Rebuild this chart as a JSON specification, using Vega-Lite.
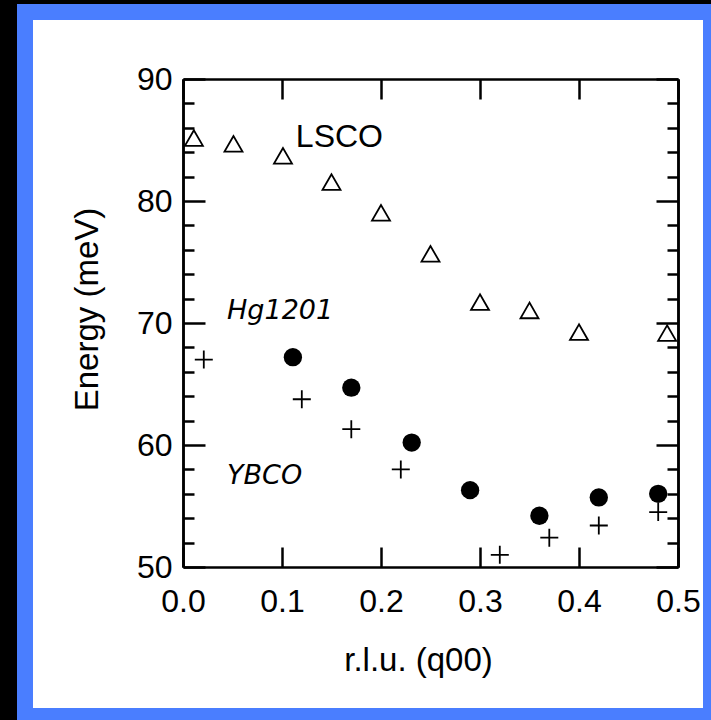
{
  "$schema": "https://vega.github.io/schema/vega-lite/v6.json",
  "background": "black",
  "autosize": {"type": "none"},
  "padding": {"left": 25, "top": 12, "right": 0, "bottom": 4},
  "width": 686,
  "height": 704,
  "config": {
    "view": {"stroke": "#4a7eff", "strokeWidth": 16, "fill": "white"},
    "axis": {
      "grid": false,
      "domainColor": "black",
      "domainWidth": 2.5,
      "tickColor": "black",
      "tickWidth": 2.5,
      "labelColor": "black",
      "labelFont": "Liberation Sans",
      "labelFontSize": 32,
      "titleColor": "black",
      "titleFont": "Liberation Sans",
      "titleFontSize": 33,
      "titleFontWeight": "normal"
    }
  },
  "datasets": {
    "lsco": [
      {"q": 0.011, "e": 85.16},
      {"q": 0.051, "e": 84.69},
      {"q": 0.101, "e": 83.7},
      {"q": 0.150, "e": 81.55},
      {"q": 0.200, "e": 79.03},
      {"q": 0.250, "e": 75.67},
      {"q": 0.300, "e": 71.71},
      {"q": 0.350, "e": 71.03},
      {"q": 0.400, "e": 69.25},
      {"q": 0.489, "e": 69.17}
    ],
    "hg1201": [
      {"q": 0.111, "e": 67.2},
      {"q": 0.170, "e": 64.7},
      {"q": 0.231, "e": 60.2},
      {"q": 0.290, "e": 56.3},
      {"q": 0.360, "e": 54.2},
      {"q": 0.420, "e": 55.7},
      {"q": 0.480, "e": 56.0}
    ],
    "ybco": [
      {"q": 0.021, "e": 67.0},
      {"q": 0.120, "e": 63.75},
      {"q": 0.170, "e": 61.3},
      {"q": 0.220, "e": 58.0},
      {"q": 0.320, "e": 51.0},
      {"q": 0.370, "e": 52.4},
      {"q": 0.420, "e": 53.4},
      {"q": 0.480, "e": 54.5}
    ],
    "labelA": [
      {"q": 0.114, "e": 84.43, "label": "LSCO"}
    ],
    "labelB": [
      {"q": 0.0445, "e": 70.33, "label": "Hg1201"},
      {"q": 0.0445, "e": 56.8, "label": "YBCO"}
    ]
  },
  "resolve": {"axis": {"x": "independent", "y": "independent"}},
  "layer": [
    {
      "data": {"name": "lsco"},
      "mark": {"type": "point", "shape": "triangle-up", "size": 324, "filled": false, "stroke": "black", "strokeWidth": 1.8, "opacity": 1},
      "encoding": {
        "x": {"field": "q", "type": "quantitative",
          "scale": {"domain": [0, 0.5], "range": [158, 653], "nice": false, "zero": false},
          "axis": {"orient": "bottom", "offset": -149, "values": [0, 0.1, 0.2, 0.3, 0.4, 0.5], "format": ".1f",
            "tickSize": -20, "labelPadding": 39, "labelFlush": false, "labelOverlap": false,
            "title": "r.l.u. (q00)", "titleX": 393, "titleY": 103, "titleBaseline": "alphabetic", "titleAnchor": null}},
        "y": {"field": "e", "type": "quantitative",
          "scale": {"domain": [50, 90], "range": [555, 67], "nice": false, "zero": false},
          "axis": {"orient": "left", "offset": -158, "values": [50, 60, 70, 80, 90],
            "tickSize": -22, "labelPadding": 33, "labelFlush": false, "labelOverlap": false,
            "title": "Energy (meV)", "titleX": -96, "titleY": 297, "titleBaseline": "middle", "titleAngle": -90}}
      }
    },
    {
      "data": {"name": "hg1201"},
      "mark": {"type": "point", "shape": "circle", "size": 336, "filled": true, "color": "black", "opacity": 1},
      "encoding": {
        "x": {"field": "q", "type": "quantitative",
          "scale": {"domain": [0, 0.5], "range": [158, 653], "nice": false, "zero": false},
          "axis": {"orient": "top", "offset": -67, "values": [0, 0.1, 0.2, 0.3, 0.4, 0.5],
            "tickSize": -20, "labels": false, "title": null}},
        "y": {"field": "e", "type": "quantitative",
          "scale": {"domain": [50, 90], "range": [555, 67], "nice": false, "zero": false},
          "axis": {"orient": "right", "offset": -33, "values": [50, 60, 70, 80, 90],
            "tickSize": -22, "labels": false, "title": null}}
      }
    },
    {
      "data": {"name": "ybco"},
      "mark": {"type": "point", "shape": "M-1,0L1,0M0,-1L0,1", "size": 324, "filled": false, "stroke": "black", "strokeWidth": 1.8, "opacity": 1},
      "encoding": {
        "x": {"field": "q", "type": "quantitative",
          "scale": {"domain": [0, 0.5], "range": [158, 653], "nice": false, "zero": false},
          "axis": null},
        "y": {"field": "e", "type": "quantitative",
          "scale": {"domain": [50, 90], "range": [555, 67], "nice": false, "zero": false},
          "axis": {"orient": "left", "offset": -158, "values": [52, 54, 56, 58, 62, 64, 66, 68, 72, 74, 76, 78, 82, 84, 86, 88],
            "tickSize": -11, "labels": false, "title": null}}
      }
    },
    {
      "data": {"name": "labelA"},
      "mark": {"type": "text", "align": "left", "baseline": "alphabetic", "font": "Liberation Sans", "fontSize": 32, "color": "black"},
      "encoding": {
        "x": {"field": "q", "type": "quantitative",
          "scale": {"domain": [0, 0.5], "range": [158, 653], "nice": false, "zero": false},
          "axis": null},
        "y": {"field": "e", "type": "quantitative",
          "scale": {"domain": [50, 90], "range": [555, 67], "nice": false, "zero": false},
          "axis": {"orient": "right", "offset": -33, "values": [52, 54, 56, 58, 62, 64, 66, 68, 72, 74, 76, 78, 82, 84, 86, 88],
            "tickSize": -11, "labels": false, "title": null}},
        "text": {"field": "label"}
      }
    },
    {
      "data": {"name": "labelB"},
      "mark": {"type": "text", "align": "left", "baseline": "alphabetic", "font": "DejaVu Sans", "fontStyle": "italic", "fontSize": 27, "color": "black"},
      "encoding": {
        "x": {"field": "q", "type": "quantitative",
          "scale": {"domain": [0, 0.5], "range": [158, 653], "nice": false, "zero": false},
          "axis": null},
        "y": {"field": "e", "type": "quantitative",
          "scale": {"domain": [50, 90], "range": [555, 67], "nice": false, "zero": false},
          "axis": null},
        "text": {"field": "label"}
      }
    }
  ]
}
